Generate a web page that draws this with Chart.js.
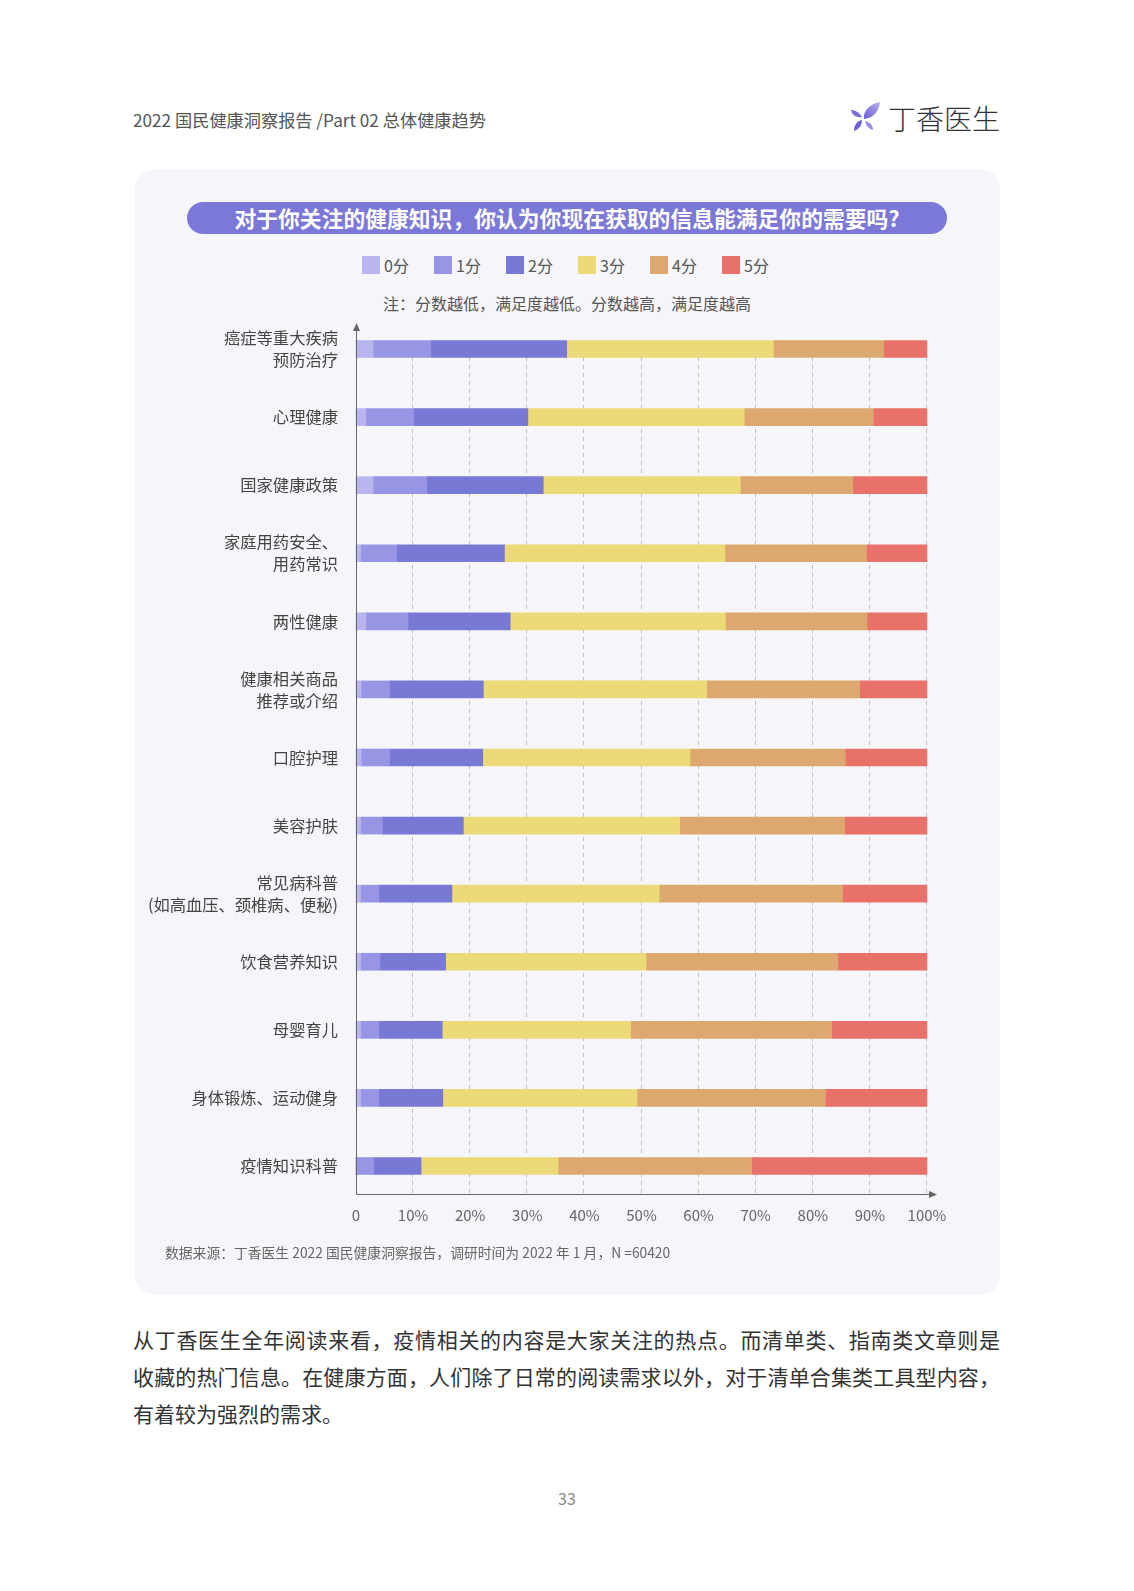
<!DOCTYPE html>
<html lang="zh-CN">
<head>
<meta charset="utf-8">
<title>2022 国民健康洞察报告</title>
<script src="https://cdn.jsdelivr.net/npm/chart.js@4.4.1/dist/chart.umd.min.js"></script>
<style>
  html, body { margin: 0; padding: 0; background: #fff; }
  body { width: 1134px; height: 1591px; position: relative; overflow: hidden;
         font-family: "Noto Sans CJK SC", "Noto Sans", sans-serif; color: #333; }
  .header { position: absolute; left: 133px; top: 107px; font-size: 17.2px; color: #555; }
  .logo { position: absolute; left: 850px; top: 100px; height: 36px; display: flex; align-items: center; }
  .logo span { font-size: 28px; font-weight: 300; color: #333; margin-left: 6px; }
  .panel { position: absolute; left: 135px; top: 169px; width: 865px; height: 1126px;
           background: #f6f6fa; border-radius: 20px; }
  .pill { position: absolute; left: 187px; top: 202px; width: 760px; height: 32px; border-radius: 16px;
          background: #7b78d8; color: #fff; font-weight: 700; font-size: 21.8px; line-height: 32px; text-align: center; }
  .legend { position: absolute; left: 362px; top: 254px; height: 22px; display: flex; }
  .legend .item { width: 72px; display: flex; align-items: center; font-size: 16px; color: #555; }
  .legend .box { width: 18px; height: 18px; margin-right: 4px; }
  .note { position: absolute; left: 0; width: 1134px; top: 291px; text-align: center; font-size: 16px; color: #555; }
  .chart-box { position: absolute; left: 0; top: 300px; width: 1134px; height: 960px; }
  .source { position: absolute; left: 165px; top: 1242px; font-size: 13.8px; color: #666; }
  .para { position: absolute; left: 133px; width: 867px; top: 1321px; font-size: 21px; color: #333; }
  .para div { height: 37px; line-height: 37px; text-align: justify; text-align-last: justify; }
  .para div.last { text-align-last: left; }
  .page { position: absolute; left: 0; width: 1134px; top: 1486px; text-align: center; font-size: 16px; color: #888; }
</style>
</head>
<body>

<div class="header">2022 国民健康洞察报告 /Part 02 总体健康趋势</div>
<div class="logo">
  <svg width="32" height="34" viewBox="0 0 32 34">
    <defs>
      <linearGradient id="g1" x1="0" y1="1" x2="1" y2="0">
        <stop offset="0" stop-color="#6a5fd6"/><stop offset="1" stop-color="#b8b0f0"/>
      </linearGradient>
    </defs>
    <path d="M14 18 C13 9 20 3 30 1 C29 10 24 17 14 18 Z" fill="url(#g1)"/>
    <path d="M12 16 C9 11 5 9 1 9 C2 14 6 17 12 16 Z" fill="#7a70dc"/>
    <path d="M12 19 C7 20 4 24 4 30 C9 28 12 24 12 19 Z" fill="#6a5fd6"/>
    <path d="M15 20 C16 25 19 28 23 29 C23 24 20 21 15 20 Z" fill="#9a90e8"/>
  </svg>
  <span>丁香医生</span>
</div>

<div class="panel"></div>
<div class="pill">对于你关注的健康知识，你认为你现在获取的信息能满足你的需要吗?</div>
<div class="legend" id="legend"></div>
<div class="note">注：分数越低，满足度越低。分数越高，满足度越高</div>
<div class="chart-box"><canvas id="scoreChart"></canvas></div>
<div class="source">数据来源：丁香医生 2022 国民健康洞察报告，调研时间为 2022 年 1 月，N =60420</div>

<div class="para">
  <div>从丁香医生全年阅读来看，疫情相关的内容是大家关注的热点。而清单类、指南类文章则是</div>
  <div>收藏的热门信息。在健康方面，人们除了日常的阅读需求以外，对于清单合集类工具型内容，</div>
  <div class="last">有着较为强烈的需求。</div>
</div>
<div class="page">33</div>

<script>
// DATA
const categories = [
    ['癌症等重大疾病', '预防治疗'],
    '心理健康',
    '国家健康政策',
    ['家庭用药安全、', '用药常识'],
    '两性健康',
    ['健康相关商品', '推荐或介绍'],
    '口腔护理',
    '美容护肤',
    ['常见病科普', '(如高血压、颈椎病、便秘)'],
    '饮食营养知识',
    '母婴育儿',
    '身体锻炼、运动健身',
    '疫情知识科普'
];
const seriesNames = ['0分', '1分', '2分', '3分', '4分', '5分'];
const score0 = [3.0, 1.7, 3.0, 0.8, 1.7, 0.9, 0.9, 0.8, 0.8, 0.8, 0.8, 0.8, 0];
const score1 = [10.1, 8.4, 9.4, 6.3, 7.4, 5.0, 5.0, 3.8, 3.2, 3.4, 3.2, 3.2, 3.1];
const score2 = [23.8, 20.0, 20.4, 18.9, 17.9, 16.4, 16.3, 14.2, 12.8, 11.5, 11.1, 11.2, 8.3];
const score3 = [36.2, 37.9, 34.5, 38.6, 37.7, 39.1, 36.3, 37.9, 36.3, 35.1, 33.0, 34.0, 24.0];
const score4 = [19.3, 22.6, 19.7, 24.8, 24.8, 26.8, 27.2, 28.9, 32.1, 33.6, 35.2, 33.0, 33.9];
const score5 = [7.6, 9.4, 13.0, 10.6, 10.5, 11.8, 14.3, 14.4, 14.8, 15.6, 16.7, 17.8, 30.7];
const xTicks = [0, 10, 20, 30, 40, 50, 60, 70, 80, 90, 100];

const colors = ['#b9b5ef', '#9896e4', '#7879d4', '#ecda78', '#dca86f', '#e8716a'];
const allScores = [score0, score1, score2, score3, score4, score5];

// LEGEND (html)
const legendEl = document.getElementById('legend');
seriesNames.forEach((name, i) => {
    const item = document.createElement('div');
    item.className = 'item';
    item.innerHTML = '<span class="box" style="background:' + colors[i] + '"></span>' + name;
    legendEl.appendChild(item);
});

// AXES + DASHED GRID
const axisDecor = {
    id: 'axisDecor',
    beforeDatasetsDraw(chart) {
        const { ctx, chartArea: a, scales: { x } } = chart;
        const axisY = a.bottom + 28;
        ctx.save();
        ctx.strokeStyle = '#bdbdc4';
        ctx.lineWidth = 1;
        ctx.setLineDash([4, 4]);
        xTicks.forEach(v => {
            if (v === 0) return;
            const px = Math.round(x.getPixelForValue(v)) - 0.5;
            ctx.beginPath();
            ctx.moveTo(px, a.top);
            ctx.lineTo(px, axisY);
            ctx.stroke();
        });
        ctx.restore();
    },
    afterDatasetsDraw(chart) {
        const { ctx, chartArea: a } = chart;
        const axisY = a.bottom + 28;
        const topY = a.top - 26;
        const rightX = a.right + 10;
        const x0 = Math.round(a.left) + 0.5;
        ctx.save();
        ctx.strokeStyle = '#666';
        ctx.fillStyle = '#666';
        ctx.lineWidth = 1;
        ctx.beginPath();
        ctx.moveTo(x0, axisY + 0.5);
        ctx.lineTo(x0, topY + 4);
        ctx.moveTo(x0, axisY + 0.5);
        ctx.lineTo(rightX - 4, axisY + 0.5);
        ctx.stroke();
        // arrows
        ctx.beginPath();
        ctx.moveTo(x0, topY);
        ctx.lineTo(x0 - 3.5, topY + 8);
        ctx.lineTo(x0 + 3.5, topY + 8);
        ctx.closePath();
        ctx.fill();
        ctx.beginPath();
        ctx.moveTo(rightX, axisY + 0.5);
        ctx.lineTo(rightX - 8, axisY - 3);
        ctx.lineTo(rightX - 8, axisY + 4);
        ctx.closePath();
        ctx.fill();
        ctx.restore();
    }
};

// CHART
const ctx = document.getElementById('scoreChart');

new Chart(ctx, {
    type: 'bar',
    data: {
        labels: categories,
        datasets: seriesNames.map((name, i) => ({
            label: name,
            data: allScores[i],
            backgroundColor: colors[i],
            borderWidth: 0,
            barThickness: 17,
            clip: false
        }))
    },
    options: {
        indexAxis: 'y',
        responsive: true,
        maintainAspectRatio: false,
        animation: false,
        layout: {
            padding: { left: 126, top: 49, right: 207, bottom: 19 }
        },
        plugins: {
            legend: { display: false },
            tooltip: { enabled: false }
        },
        scales: {
            x: {
                stacked: true,
                min: 0,
                max: 100,
                grid: { display: false, drawTicks: false },
                border: { display: false },
                afterFit: s => { s.height = 75; },
                afterBuildTicks: s => { s.ticks = xTicks.map(v => ({ value: v })); },
                ticks: {
                    padding: 40,
                    color: '#666',
                    font: { family: '"Noto Sans CJK SC", sans-serif', size: 15 },
                    callback: v => v === 0 ? '0' : v + '%'
                }
            },
            y: {
                stacked: true,
                offset: false,
                grid: { display: false, drawTicks: false },
                border: { display: false },
                afterFit: s => { s.width = 230; },
                ticks: {
                    padding: 18,
                    color: '#444',
                    font: { family: '"Noto Sans CJK SC", sans-serif', size: 16.3, lineHeight: 1.35 }
                }
            }
        }
    },
    plugins: [axisDecor]
});
</script>
</body>
</html>
